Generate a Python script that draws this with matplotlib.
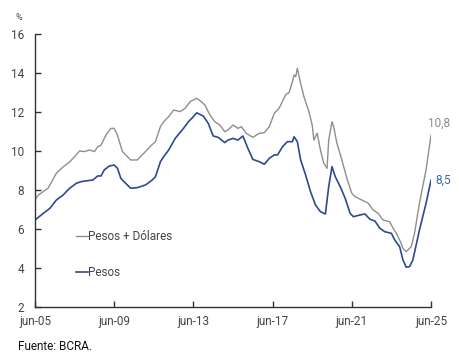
"""Depósitos en pesos y en pesos + dólares, en % (fuente BCRA)."""

import matplotlib

matplotlib.use("Agg")
import matplotlib.pyplot as plt

plt.rcParams["font.family"] = ["Roboto", "DejaVu Sans"]

# months counted from jun-05
total_months = [
    0, 2, 8, 13, 17, 21, 24, 27, 30, 33, 36, 38, 40, 43, 46, 48, 50, 53, 58, 62,
    65, 70, 73, 76, 78, 81, 84, 88, 91, 94, 98, 100, 103, 106, 109, 112, 115, 117,
    120, 123, 125, 128, 132, 136, 139, 142, 145, 148, 152, 154, 156, 157, 158, 159,
    161, 163, 166, 168, 169, 171, 173, 175, 177, 178, 180, 181, 183, 186, 189, 192,
    194, 198, 202, 205, 208, 211, 215, 217, 219, 221, 223, 225, 228, 230, 233, 237,
    240,
]
total_values = [
    7.5, 7.74, 8.1, 8.87, 9.18, 9.44, 9.71, 10.0, 9.97, 10.05, 9.97, 10.22, 10.3,
    10.82, 11.16, 11.16, 10.8, 9.97, 9.54, 9.54, 9.8, 10.25, 10.48, 11.25, 11.5,
    11.76, 12.1, 12.02, 12.19, 12.53, 12.7, 12.58, 12.36, 11.85, 11.5, 11.33, 10.99,
    11.08, 11.33, 11.16, 11.25, 10.91, 10.7, 10.91, 10.94, 11.25, 11.93, 12.2, 12.9,
    13.0, 13.55, 13.9, 13.81, 14.24, 13.47, 12.78, 12.02, 11.33, 10.56, 10.91, 10.05,
    9.37, 9.11, 10.56, 11.5, 11.25, 10.39, 9.54, 8.6, 7.83, 7.66, 7.49, 7.32, 6.97,
    6.8, 6.46, 6.37, 6.04, 5.78, 5.44, 5.01, 4.84, 5.09, 5.78, 7.32, 9.03, 10.8,
]

pesos_months = [
    0, 5, 9, 13, 17, 21, 25, 28, 32, 35, 38, 40, 42, 45, 48, 50, 52, 55, 58, 62,
    67, 71, 73, 76, 78, 81, 85, 90, 93, 96, 98, 102, 105, 108, 111, 115, 117, 120,
    123, 126, 129, 132, 136, 139, 142, 145, 147, 150, 153, 156, 157, 159, 161, 164,
    167, 170, 173, 176, 178, 180, 182, 185, 188, 191, 193, 197, 200, 203, 206, 209,
    212, 216, 218, 221, 223, 225, 227, 229, 233, 237, 240,
]
pesos_values = [
    6.46, 6.8, 7.06, 7.49, 7.74, 8.09, 8.34, 8.43, 8.48, 8.51, 8.72, 8.72, 9.03,
    9.23, 9.28, 9.11, 8.6, 8.34, 8.09, 8.12, 8.26, 8.51, 8.68, 9.45, 9.71, 10.05,
    10.65, 11.16, 11.5, 11.76, 11.96, 11.79, 11.42, 10.77, 10.7, 10.43, 10.56, 10.65,
    10.56, 10.77, 10.14, 9.57, 9.45, 9.32, 9.62, 9.8, 9.8, 10.22, 10.48, 10.48,
    10.73, 10.48, 9.54, 8.77, 7.91, 7.23, 6.89, 6.77, 8.17, 9.2, 8.68, 8.17, 7.57,
    6.8, 6.63, 6.72, 6.77, 6.5, 6.41, 6.04, 5.86, 5.78, 5.44, 5.09, 4.41, 4.04,
    4.07, 4.41, 5.95, 7.32, 8.5,
]

tick_months = [0, 48, 96, 144, 192, 240]
tick_labels = ["jun-05", "jun-09", "jun-13", "jun-17", "jun-21", "jun-25"]
y_ticks = [2, 4, 6, 8, 10, 12, 14, 16]

GRAY = "#8e8e8e"
BLUE = "#2b4a8f"
AXIS = "#333333"
TEXT = "#444444"

fig = plt.figure(figsize=(4.6, 3.57), dpi=100)
ax = fig.add_axes([35 / 460, 50 / 357, 396 / 460, 273 / 357])

ax.plot(total_months, total_values, color=GRAY, lw=1.0, solid_joinstyle="round")
ax.plot(pesos_months, pesos_values, color=BLUE, lw=1.2, solid_joinstyle="round")

ax.set_xlim(0, 240)
ax.set_ylim(2, 16)
ax.set_xticks(tick_months, tick_labels)
ax.set_yticks(y_ticks)

for side in ("top", "right"):
    ax.spines[side].set_visible(False)
for side in ("left", "bottom"):
    ax.spines[side].set_color(AXIS)
    ax.spines[side].set_linewidth(1.0)
ax.tick_params(axis="both", direction="in", length=4, width=1.0, color=AXIS,
               labelsize=8.5, labelcolor=TEXT)
ax.tick_params(axis="x", pad=6)
ax.tick_params(axis="y", pad=8)

# end-of-series labels
ax.annotate(f"{total_values[-1]:.1f}".replace(".", ","), (total_months[-1], total_values[-1]),
            xytext=(-2, 4), textcoords="offset points", color=GRAY, fontsize=8.5,
            ha="left", va="bottom")
ax.annotate(f"{pesos_values[-1]:.1f}".replace(".", ","), (pesos_months[-1], pesos_values[-1]),
            xytext=(3, 0), textcoords="offset points", color="#3a64b0", fontsize=8.5,
            ha="left", va="center")

# inline legend
fig.add_artist(plt.Line2D([76 / 460, 88 / 460], [1 - 236 / 357] * 2, color=GRAY, lw=1.0))
fig.text(88 / 460, 1 - 236 / 357, "Pesos + Dólares", color=TEXT, fontsize=8.5, va="center")
fig.add_artist(plt.Line2D([76 / 460, 88 / 460], [1 - 272 / 357] * 2, color=BLUE, lw=1.2))
fig.text(88 / 460, 1 - 272 / 357, "Pesos", color=TEXT, fontsize=8.5, va="center")

fig.text(16 / 460, 1 - 17 / 357, "%", color=TEXT, fontsize=6.5, va="center")
fig.text(18 / 460, 1 - 346 / 357, "Fuente: BCRA.", color="#111111", fontsize=8.5, va="center")

fig.savefig("out.png", dpi=100)
